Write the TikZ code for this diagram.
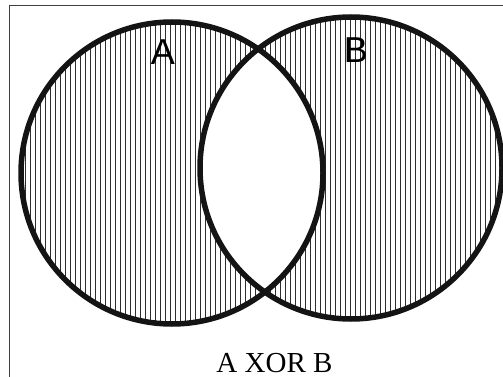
\documentclass[tikz,border=0pt]{standalone}
\usepackage{fontspec}
\setmainfont{Liberation Serif}
\newfontfamily\labelfont{Liberation Sans}
\begin{document}
\begin{tikzpicture}[x=1pt,y=-1pt,
  rim/.style={line width=5.5pt,draw=black!92},
  hatch/.style={line width=1.6pt,draw=black!82},
  setlabel/.style={font=\labelfont\fontsize{36}{36}\selectfont,anchor=base,inner sep=0pt},
  caption/.style={font=\fontsize{29}{29}\selectfont,anchor=base,inner sep=0pt}]
\useasboundingbox (0,0) rectangle (503,377);
\fill[white] (0,0) rectangle (503,377);
% frame
\draw[line width=0.9pt,black!75] (9,377) -- (9,5) -- (503,5);
\coordinate (cA) at (172,173);
\coordinate (cB) at (351,168);
% hatching on union
\begin{scope}
  \clip (cA) circle (151) (cB) circle (151);
  \foreach \x in {20.5,25.5,...,505} {
    \draw[hatch] (\x,0) -- (\x,377);
  }
\end{scope}
% blank intersection
\begin{scope}
  \clip (cA) circle (151);
  \fill[white] (cB) circle (151);
\end{scope}
% rims
\draw[rim] (cA) circle (151);
\draw[rim] (cB) circle (151);
% labels
\node[setlabel] (la) at (163,65) {A};
\node[setlabel] (lb) at (356,63) {B};
\node[caption] (cap) at (274.5,372) {A XOR B};
\end{tikzpicture}
\end{document}
